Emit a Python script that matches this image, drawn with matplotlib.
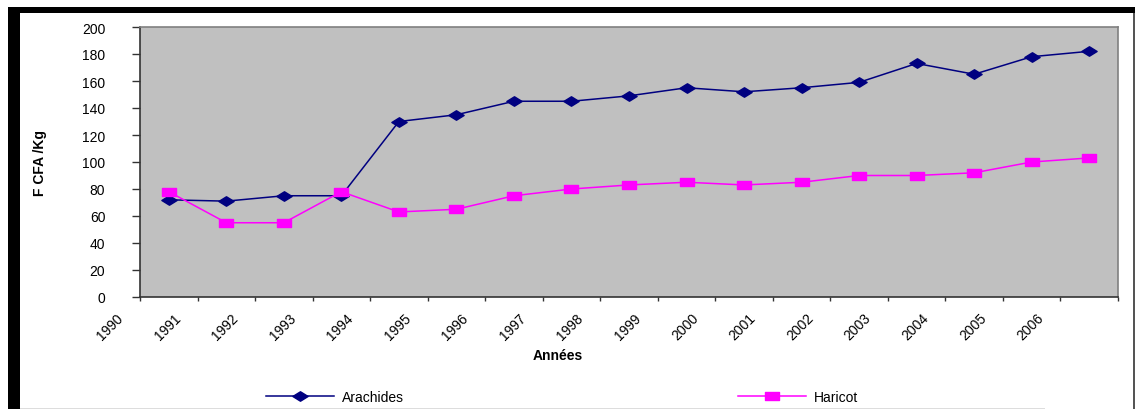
import matplotlib
matplotlib.use("Agg")
import matplotlib.pyplot as plt
from matplotlib.path import Path
from matplotlib.patches import Rectangle
import matplotlib.transforms as mtransforms
import numpy as np

plt.rcParams['font.family'] = ['Liberation Sans', 'DejaVu Sans']

years = [str(y) for y in range(1990, 2007)]
arachides = [72, 71, 75, 75, 130, 135, 145, 145, 149, 155, 152, 155, 159, 173, 165, 178, 182]
haricot = [78, 55, 55, 78, 63, 65, 75, 80, 83, 85, 83, 85, 90, 90, 92, 100, 103]
yticks = list(range(0, 201, 20))

W, H = 1135, 410
fig = plt.figure(figsize=(W / 100, H / 100), dpi=100)
fig.patch.set_facecolor('white')

# black frame (left and top) and thin right/bottom lines
fig.patches.append(Rectangle((8 / W, 0), 12 / W, 1 - 8 / H, transform=fig.transFigure,
                             facecolor='black', edgecolor='none', zorder=0))
fig.patches.append(Rectangle((8 / W, 1 - 14 / H), 1 - 8 / W, 6 / H, transform=fig.transFigure,
                             facecolor='black', edgecolor='none', zorder=0))
fig.patches.append(Rectangle((1133 / W, 0), 1.5 / W, 1 - 14 / H, transform=fig.transFigure,
                             facecolor='#555555', edgecolor='none', zorder=0))
fig.patches.append(Rectangle((20 / W, 0), 1025 / W, 1.5 / H, transform=fig.transFigure,
                             facecolor='#dddddd', edgecolor='none', zorder=0))

left, right, top, bottom = 140, 1118, 28, 298
ax = fig.add_axes([left / W, 1 - bottom / H, (right - left) / W, (bottom - top) / H])
ax.set_facecolor('#C0C0C0')

n = len(years)
xpos = np.arange(n) + 0.5

diamond = Path([(-1, 0), (0, 0.62), (1, 0), (0, -0.62), (-1, 0)],
               [Path.MOVETO, Path.LINETO, Path.LINETO, Path.LINETO, Path.CLOSEPOLY])
square = Path([(-1, -0.62), (1, -0.62), (1, 0.62), (-1, 0.62), (-1, -0.62)],
              [Path.MOVETO, Path.LINETO, Path.LINETO, Path.LINETO, Path.CLOSEPOLY])

l1, = ax.plot(xpos, arachides, color='#000080', lw=1.1, marker=diamond, markersize=11,
              markerfacecolor='#000080', markeredgecolor='#000080', label='Arachides')
l2, = ax.plot(xpos, haricot, color='#FF00FF', lw=1.1, marker=square, markersize=10,
              markerfacecolor='#FF00FF', markeredgecolor='#FF00FF', label='Haricot')

ax.set_xlim(0, n)
ax.set_ylim(0, 200)
ax.set_yticks(yticks)
ax.set_yticklabels([str(v) for v in yticks], fontsize=10)
ax.set_xticks(np.arange(n + 1))
ax.set_xticklabels(years + [''], rotation=45, ha='right', va='center',
                   rotation_mode='anchor', fontsize=10)
ax.tick_params(axis='y', direction='out', length=6, width=1, color='#333333', pad=19)
ax.tick_params(axis='x', direction='out', length=3, width=1, color='#333333', pad=0)

offset = mtransforms.ScaledTranslation(-19 / 100, -14 / 100, fig.dpi_scale_trans)
for lab in ax.get_xticklabels():
    lab.set_transform(lab.get_transform() + offset)

for s in ['left', 'bottom']:
    ax.spines[s].set_color('#333333')
    ax.spines[s].set_linewidth(1.2)
for s in ['top', 'right']:
    ax.spines[s].set_color('#808080')
    ax.spines[s].set_linewidth(1.2)

fig.text(40 / W, 1 - 163 / H, 'F CFA /Kg', rotation=90, ha='center', va='center',
         fontsize=10, fontweight='bold')
fig.text(558 / W, 1 - 356 / H, 'Années', ha='center', va='center',
         fontsize=10, fontweight='bold')

leg = fig.legend(handles=[l1, l2], ncol=2, loc='center', bbox_to_anchor=(562 / W, 1 - 398 / H),
                 frameon=False, fontsize=10, handlelength=4.9, handletextpad=0.6,
                 columnspacing=24.0, numpoints=1)

fig.savefig('out.png', dpi=100)
